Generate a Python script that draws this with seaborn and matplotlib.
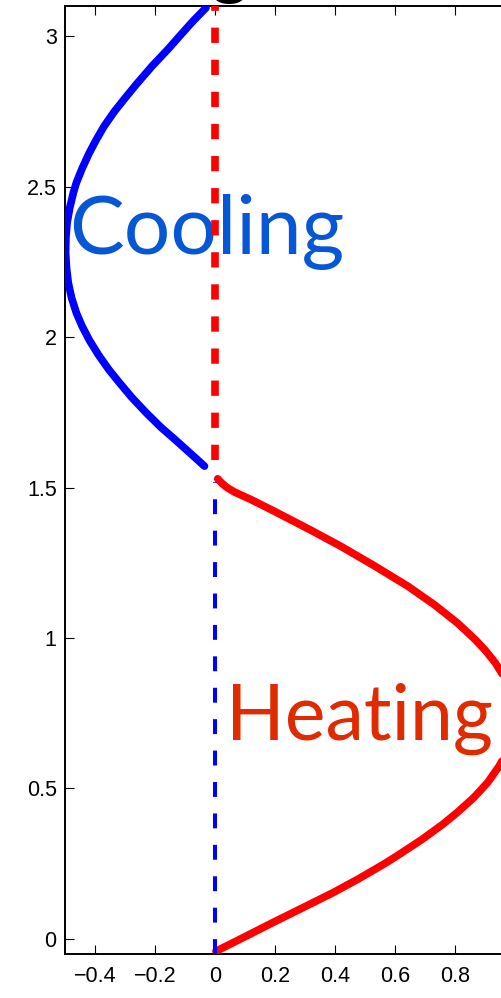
import numpy as np
import pandas as pd
import matplotlib
matplotlib.use("Agg")
import matplotlib.pyplot as plt
import seaborn as sns

# ---- data ----
cool_y = [1.571, 1.60, 1.626, 1.66, 1.70, 1.748, 1.80, 1.85, 1.892, 1.94, 1.99, 2.036,
          2.08, 2.13, 2.18, 2.23, 2.28, 2.33, 2.38, 2.43, 2.48, 2.513, 2.56, 2.61,
          2.657, 2.70, 2.75, 2.79, 2.84, 2.90, 2.956, 3.00, 3.05, 3.094]
cool_x = [-0.035, -0.067, -0.096, -0.134, -0.180, -0.229, -0.278, -0.320, -0.354, -0.388, -0.419, -0.443,
          -0.462, -0.478, -0.489, -0.495, -0.498, -0.497, -0.493, -0.484, -0.472, -0.462, -0.443, -0.420,
          -0.395, -0.370, -0.335, -0.303, -0.262, -0.210, -0.157, -0.118, -0.073, -0.030]

heat_y = [-0.041, 0.0, 0.053, 0.10, 0.153, 0.20, 0.25, 0.275, 0.33, 0.38, 0.419, 0.47, 0.52,
          0.574, 0.62, 0.67, 0.72, 0.77, 0.82, 0.87, 0.918, 0.96, 0.995, 1.05, 1.11, 1.172,
          1.24, 1.305, 1.36, 1.421, 1.46, 1.485, 1.50, 1.515, 1.529]
heat_x = [0.003, 0.085, 0.19, 0.285, 0.392, 0.479, 0.565, 0.605, 0.689, 0.758, 0.806, 0.863, 0.909,
          0.947, 0.973, 0.991, 0.999, 0.998, 0.986, 0.964, 0.934, 0.90, 0.867, 0.808, 0.732, 0.643,
          0.531, 0.419, 0.316, 0.198, 0.12, 0.065, 0.040, 0.022, 0.009]

red_dash_y = [1.59, 3.15]
blue_dash_y = [-0.05, 1.52]
zero_x = [0.0, 0.0]

x_ticks = [-0.4, -0.2, 0, 0.2, 0.4, 0.6, 0.8]
x_tick_labels = ["\u22120.4", "\u22120.2", "0", "0.2", "0.4", "0.6", "0.8"]
y_ticks = [0, 0.5, 1, 1.5, 2, 2.5, 3]
y_tick_labels = ["0", "0.5", "1", "1.5", "2", "2.5", "3"]

cool_df = pd.DataFrame({"x": cool_x, "y": cool_y})
heat_df = pd.DataFrame({"x": heat_x, "y": heat_y})

sns.set_style("ticks")
plt.rcParams["font.family"] = ["Liberation Sans", "DejaVu Sans"]

fig = plt.figure(figsize=(5.02, 9.98), dpi=100)
ax = fig.add_axes([65 / 502, 44 / 998, 441 / 502, 948 / 998])

sns.lineplot(data=cool_df, x="x", y="y", orient="y", sort=False, estimator=None,
             color="#0000ff", linewidth=5.5, ax=ax, zorder=3)
sns.lineplot(data=heat_df, x="x", y="y", orient="y", sort=False, estimator=None,
             color="#ff0000", linewidth=5.5, ax=ax, zorder=3)
for ln in ax.lines:
    ln.set_solid_joinstyle("round")
sns.lineplot(x=zero_x, y=blue_dash_y, orient="y", sort=False, estimator=None,
             color="#0000ff", linewidth=2.9, dashes=False, ax=ax, zorder=3)
ax.lines[-1].set_dashes((3.7, 4.1))
sns.lineplot(x=zero_x, y=red_dash_y, orient="y", sort=False, estimator=None,
             color="#ff0000", linewidth=5.5, ax=ax, zorder=4)
ax.lines[-1].set_dashes((2.0, 2.2))

ax.text(-0.487, 2.2745, "Cooling", color="#0657d6", fontsize=59,
        family=["Lato", "DejaVu Sans"], ha="left", va="baseline", zorder=2)
ax.text(0.036, 0.663, "Heating", color="#e02a00", fontsize=55.5,
        family=["Lato", "DejaVu Sans"], ha="left", va="baseline", zorder=2)

ax.set_xlim(-0.5, 0.97)
ax.set_ylim(-0.05, 3.1)
ax.set_xticks(x_ticks)
ax.set_xticklabels(x_tick_labels)
ax.set_yticks(y_ticks)
ax.set_yticklabels(y_tick_labels)
ax.set_xlabel("")
ax.set_ylabel("")
ax.tick_params(axis="both", direction="in", length=6.5, width=0.8, labelsize=15.5,
               colors="black", top=True, right=False)
ax.tick_params(axis="x", pad=9)
ax.tick_params(axis="y", pad=6)
for s in ax.spines.values():
    s.set_linewidth(1.4)
    s.set_color("black")
    s.set_visible(True)

# cropped title glyph peeking at the top
fig.text(230 / 502, 994 / 998, "g", fontsize=52, fontweight="bold", color="black",
         ha="center", va="bottom")

fig.savefig("out.png", dpi=100)
